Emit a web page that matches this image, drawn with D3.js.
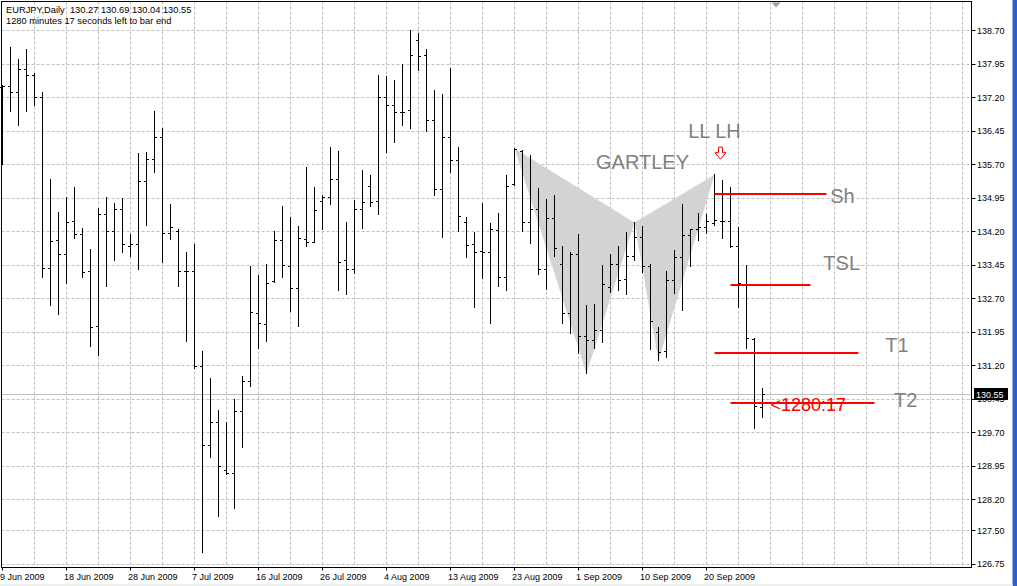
<!DOCTYPE html>
<html><head><meta charset="utf-8">
<script src="https://cdn.jsdelivr.net/npm/d3@7"></script>
<style>
html,body{margin:0;padding:0;background:#fff;overflow:hidden}
svg{display:block}
text{font-family:"Liberation Sans",Arial,sans-serif}
</style></head><body>
<svg id="c" width="1017" height="586"></svg>
<script>
// ---- data (EURJPY daily bars) ----
const opens  = [137.43,137.45,137.32,137.83,137.70,137.19,133.37,133.99,133.68,134.43,134.13,133.30,132.08,134.59,134.21,134.70,133.86,133.90,135.32,135.82,136.31,134.15,134.21,133.31,133.30,131.17,129.42,129.92,128.85,128.79,130.17,130.85,132.36,132.12,133.08,133.99,133.42,132.92,134.01,133.96,134.88,134.97,135.36,133.54,133.34,134.70,135.20,134.88,137.20,137.02,136.87,136.92,138.48,138.14,136.69,135.15,136.31,135.80,134.40,133.91,133.76,133.72,134.22,133.17,135.26,135.99,134.41,134.69,133.36,134.50,133.46,132.36,133.68,131.86,131.75,131.98,132.94,133.47,133.13,133.65,134.07,133.42,131.94,131.52,133.11,133.61,134.11,134.24,134.30,134.38,134.43,134.43,133.86,133.01,131.79,130.27];
const highs  = [137.47,138.33,138.06,138.28,137.74,137.32,135.36,134.63,134.97,135.18,134.27,133.80,134.72,134.97,134.82,134.93,134.13,135.95,135.97,136.88,136.51,134.80,134.25,133.74,133.91,131.52,130.90,130.19,129.92,130.44,130.96,133.42,133.22,133.47,134.20,134.76,134.51,134.31,135.63,135.18,135.01,136.09,135.99,134.40,134.90,135.57,135.45,137.70,137.68,137.59,137.95,138.70,138.64,138.28,137.36,137.26,137.84,136.09,134.51,134.18,134.82,134.37,134.60,135.45,136.06,136.01,135.90,135.17,134.92,135.00,133.86,133.73,134.13,132.54,132.57,133.43,133.69,133.86,134.17,134.40,134.32,133.47,132.05,133.31,133.78,134.80,134.24,134.60,134.57,135.47,135.34,135.19,134.28,133.44,131.80,130.69];
const lows   = [135.70,136.89,136.57,136.88,137.01,133.18,132.55,132.35,133.03,134.05,133.17,131.63,131.42,132.98,133.55,133.72,133.63,133.36,134.34,135.53,133.51,134.03,132.96,131.73,131.13,127.02,129.13,127.83,128.75,128.00,129.36,130.72,131.59,131.73,133.05,133.17,132.40,132.07,133.86,133.95,134.24,134.80,132.88,132.78,133.26,134.27,134.76,134.57,135.97,136.20,136.57,136.50,137.80,136.43,135.01,134.07,135.53,134.19,133.61,132.49,133.15,132.15,132.96,132.88,135.24,134.21,133.94,133.24,132.90,133.64,132.15,131.91,131.46,131.02,131.59,131.71,132.84,132.88,132.80,133.55,133.28,131.55,131.31,131.38,132.82,132.44,133.41,133.99,134.15,134.34,134.04,133.84,132.51,131.58,129.80,130.04];
const closes = [137.45,137.32,137.83,137.70,137.19,133.37,133.97,133.68,134.41,134.13,133.28,132.05,134.59,134.21,134.70,133.92,133.90,135.32,135.82,136.31,134.15,134.28,133.30,133.30,131.17,129.42,129.92,128.93,128.79,130.17,130.85,132.38,132.13,133.03,133.99,133.44,132.92,134.04,133.96,134.68,134.97,135.36,133.51,133.34,134.70,134.86,134.86,137.20,137.01,136.87,136.87,138.15,138.12,136.69,135.14,136.31,135.78,134.53,133.88,133.74,133.74,134.24,133.16,135.20,136.03,134.41,134.69,133.36,134.50,133.82,132.36,133.68,131.86,131.75,131.98,133.02,133.47,133.11,133.65,134.07,133.42,132.18,131.50,133.11,133.61,134.11,134.24,134.30,134.42,134.45,134.43,133.86,133.03,131.81,130.29,130.55];

const priceTickLabels = ["138.70","137.95","137.20","136.45","135.70","134.95","134.20","133.45","132.70","131.95","131.20","130.45","129.70","128.95","128.20","127.50","126.75"];
const dateLabels = ["9 Jun 2009","18 Jun 2009","28 Jun 2009","7 Jul 2009","16 Jul 2009","26 Jul 2009","4 Aug 2009","13 Aug 2009","23 Aug 2009","1 Sep 2009","10 Sep 2009","20 Sep 2009"];
const dateLabelBars = [0,8,16,24,32,40,48,56,64,72,80,88];

// Gartley pattern points X, A, B, C, D (bar index, price)
const gartleyBars   = [64, 73, 79, 82, 89];
const gartleyPrices = [136.06, 131.02, 134.40, 131.31, 135.47];

// trade levels
const levelNames  = ["Sh", "TSL", "T1", "T2"];
const levelPrices = [135.03, 133.01, 131.49, 130.36];
const levelFrom   = [89, 91, 89, 91];
const levelTo     = [103, 101, 107, 109];
const levelLabelBars   = [105, 104.9, 111.8, 112.9];
const levelLabelPrices = [135.00, 133.50, 131.65, 130.43];

const lastPrice = 130.55;
const header1 = "EURJPY,Daily  130.27 130.69 130.04 130.55";
const header2 = "1280 minutes 17 seconds left to bar end";
const timerText = "<1280:17";

// ---- layout ----
const svg = d3.select("#c");
const L = 1.5, T = 1.5, R = 971.5, B = 567.5;
const x = d3.scaleLinear().domain([0, 121]).range([2.5, 970.5]);
const y = d3.scaleLinear().domain([126.75, 138.70]).range([564.3, 30.5]);
const py = v => Math.round(y(v) - 0.5) + 0.5;
const tickVals = priceTickLabels.map(Number);

svg.append("rect").attr("width",1017).attr("height",586).attr("fill","#fff");

// grid
const grid = svg.append("g").attr("stroke","#c0c0c0").attr("stroke-dasharray","3,2").attr("stroke-width",1);
tickVals.forEach(v => grid.append("line").attr("x1",L).attr("x2",R).attr("y1",py(v)).attr("y2",py(v)));
d3.range(4, 121, 4).forEach(b => grid.append("line").attr("x1",x(b)).attr("x2",x(b)).attr("y1",T).attr("y2",B));

// gartley triangles
const tri = idx => idx.map(i => [x(gartleyBars[i]), y(gartleyPrices[i])]);
[[0,1,2],[2,3,4]].forEach(t => {
  svg.append("path").attr("d", d3.line()(tri(t)) + "Z").attr("fill","#d3d3d3").attr("stroke","none");
});

// last price line
svg.append("line").attr("x1",L).attr("x2",R).attr("y1",py(lastPrice)).attr("y2",py(lastPrice))
  .attr("stroke","#c0c0c0").attr("stroke-width",1);

// OHLC bars
const bars = svg.append("g").attr("stroke","#000").attr("stroke-width",1).attr("shape-rendering","crispEdges");
opens.forEach((o,i) => {
  const xc = x(i);
  bars.append("line").attr("x1",xc).attr("x2",xc).attr("y1",py(highs[i])-0.5).attr("y2",py(lows[i])+0.5);
  bars.append("line").attr("x1",xc-2.5).attr("x2",xc-0.5).attr("y1",py(o)).attr("y2",py(o));
  bars.append("line").attr("x1",xc+0.5).attr("x2",xc+2.5).attr("y1",py(closes[i])).attr("y2",py(closes[i]));
});

// red levels
levelNames.forEach((n,i) => {
  const yy = Math.round(y(levelPrices[i]));
  svg.append("line").attr("x1",x(levelFrom[i])).attr("x2",x(levelTo[i])).attr("y1",yy).attr("y2",yy)
    .attr("stroke","#ff0000").attr("stroke-width",2);
  svg.append("text").attr("x",x(levelLabelBars[i])).attr("y",y(levelLabelPrices[i]))
    .attr("text-anchor","middle").attr("dominant-baseline","central")
    .attr("font-size","20px").attr("fill","#808080").text(n);
});

// pattern labels
svg.append("text").attr("x",x(80)).attr("y",y(135.75)).attr("text-anchor","middle").attr("dominant-baseline","central")
  .attr("font-size","20px").attr("fill","#808080").text("GARTLEY");
svg.append("text").attr("x",x(89)).attr("y",y(136.44)).attr("text-anchor","middle").attr("dominant-baseline","central")
  .attr("font-size","20px").attr("fill","#808080").text("LL LH");

// red hollow arrow above D
{
  const cx = x(89) + 6, tip = y(135.82);
  const p = d3.path();
  p.moveTo(cx-2, tip-12); p.lineTo(cx+2, tip-12); p.lineTo(cx+2, tip-6.5); p.lineTo(cx+5.5, tip-6.5);
  p.lineTo(cx, tip); p.lineTo(cx-5.5, tip-6.5); p.lineTo(cx-2, tip-6.5); p.closePath();
  svg.append("path").attr("d", p.toString()).attr("fill","#fff").attr("stroke","#ff0000").attr("stroke-width",1);
}

// timer text
svg.append("text").attr("x",x(96)).attr("y",y(130.32)).attr("dominant-baseline","central")
  .attr("font-size","18px").attr("fill","#ff0000").text(timerText);

// shift marker
{
  const sx = x(96.7);
  svg.append("path").attr("d",`M${sx-4.5},2.5L${sx+4.5},2.5L${sx},7.5Z`).attr("fill","#a0a0a0");
}

// frame
svg.append("rect").attr("x",L).attr("y",T).attr("width",R-L).attr("height",B-T)
  .attr("fill","none").attr("stroke","#000").attr("stroke-width",1);

// right axis
const ax = svg.append("g");
tickVals.forEach((v,i) => {
  ax.append("line").attr("x1",R).attr("x2",R+4).attr("y1",py(v)).attr("y2",py(v)).attr("stroke","#000");
  ax.append("text").attr("x",977).attr("y",y(v)).attr("dominant-baseline","central")
    .attr("font-size","9px").attr("fill","#000").text(priceTickLabels[i]);
});
// last price box
ax.append("rect").attr("x",974).attr("y",py(lastPrice)-6.5).attr("width",34).attr("height",12).attr("fill","#000");
ax.append("text").attr("x",976).attr("y",y(lastPrice)).attr("dominant-baseline","central")
  .attr("font-size","9px").attr("fill","#fff").text(lastPrice.toFixed(2));

// bottom axis
dateLabels.forEach((d,i) => {
  const xc = x(dateLabelBars[i]);
  ax.append("line").attr("x1",xc).attr("x2",xc).attr("y1",B).attr("y2",B+3).attr("stroke","#000");
  ax.append("text").attr("x",xc-2.5).attr("y",580).attr("font-size","9px").attr("fill","#000").text(d);
});

// header texts
svg.append("text").attr("x",6).attr("y",13.3).attr("font-size","9.3px").attr("fill","#000").style("white-space","pre").text(header1);
svg.append("text").attr("x",6).attr("y",24).attr("font-size","9.3px").attr("fill","#000").text(header2);

// window edge
svg.append("rect").attr("x",1012.5).attr("y",0).attr("width",5).attr("height",586).attr("fill","#2a5fd8");
svg.append("rect").attr("x",0).attr("y",584).attr("width",1012.5).attr("height",2).attr("fill","#eef0ee");
</script>
</body></html>
